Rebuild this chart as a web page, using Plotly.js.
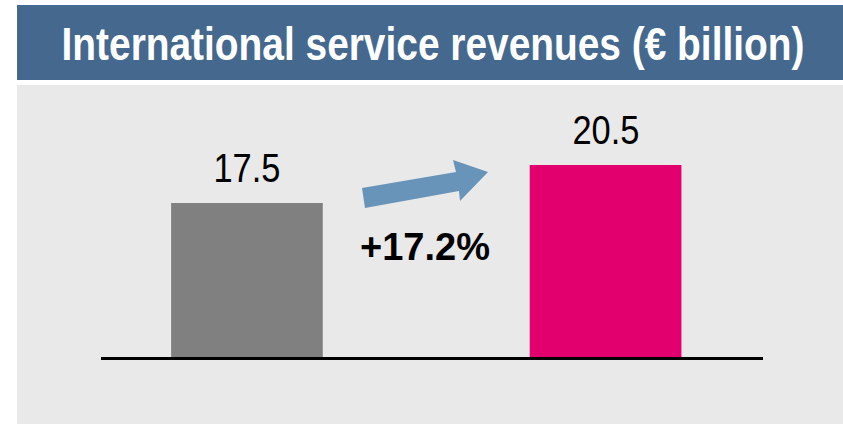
<!DOCTYPE html>
<html>
<head>
<meta charset="utf-8">
<script src="https://cdn.plot.ly/plotly-3.0.1.min.js"></script>
<style>html,body{margin:0;padding:0;background:#fff;}#chart{width:843px;height:424px;}</style>
</head>
<body>
<div id="chart"></div>
<script>
const categories = ["Before", "After"];
const values = [17.5, 20.5];
const valueLabels = ["17.5", "20.5"];
const barColors = ["#808080", "#e2006f"];
const growthLabel = "+17.2%";
const titleText = "International service revenues (€ billion)";

const W = 843, H = 424;
const px = x => x / W;
const py = y => 1 - y / H;

const arrowPts = [[362,188],[456,172],[453,160],[488,172],[460,201],[459,191],[365,208]];
const arrowPath = arrowPts.map((p,i)=> (i? 'L':'M') + px(p[0]).toFixed(5) + ',' + py(p[1]).toFixed(5)).join(' ') + ' Z';

const trace = {
  type: 'bar',
  x: categories,
  y: values,
  width: 0.423,
  marker: {color: barColors, line: {width: 0}},
  hoverinfo: 'none'
};

const layout = {
  width: W, height: H,
  margin: {l: 0, r: 0, t: 0, b: 0, pad: 0},
  paper_bgcolor: '#ffffff',
  plot_bgcolor: 'rgba(0,0,0,0)',
  showlegend: false,
  title: {
    text: '<b>' + titleText + '</b>',
    font: {family: '"Liberation Sans", Arial, sans-serif', size: 46, color: '#ffffff'},
    x: px(433), xanchor: 'center',
    y: py(44), yanchor: 'middle',
    xref: 'paper', yref: 'paper'
  },
  xaxis: {
    type: 'category',
    domain: [px(101), px(763)],
    range: [-0.407, 1.439],
    showline: true, linecolor: '#000000', linewidth: 2.5,
    showticklabels: false, ticks: '', showgrid: false, zeroline: false,
    fixedrange: true
  },
  yaxis: {
    domain: [py(357), py(85)],
    range: [5.34, 26.82],
    showticklabels: false, ticks: '', showgrid: false, zeroline: false, showline: false,
    fixedrange: true
  },
  shapes: [
    {type: 'rect', xref: 'paper', yref: 'paper', x0: px(17), x1: 1, y0: py(80), y1: py(5),
     fillcolor: '#44688e', line: {width: 0}, layer: 'below'},
    {type: 'rect', xref: 'paper', yref: 'paper', x0: px(17), x1: 1, y0: 0, y1: py(85),
     fillcolor: '#e9e9e9', line: {width: 0}, layer: 'below'},
    {type: 'path', xref: 'paper', yref: 'paper', path: arrowPath,
     fillcolor: '#6894ba', line: {width: 0}, layer: 'above'}
  ],
  annotations: values.map((v, i) => ({
    x: categories[i], y: v, xref: 'x', yref: 'y',
    text: valueLabels[i], showarrow: false,
    xanchor: 'center', yanchor: 'bottom', yshift: 10,
    font: {family: '"Liberation Sans", Arial, sans-serif', size: 41, color: '#000000'}
  })).concat([{
    x: px(425), y: py(247), xref: 'paper', yref: 'paper',
    text: '<b>' + growthLabel + '</b>', showarrow: false,
    xanchor: 'center', yanchor: 'middle',
    font: {family: '"Liberation Sans", Arial, sans-serif', size: 38, color: '#000000'}
  }])
};

function condense(el, sx, targetWidth) {
  if (!el) return;
  const bb = el.getBBox();
  const s = targetWidth ? targetWidth / bb.width : sx;
  const cx = bb.x + bb.width / 2;
  const prev = el.getAttribute('transform') || '';
  el.setAttribute('transform', prev + ` translate(${cx},0) scale(${s},1) translate(${-cx},0)`);
}

Plotly.newPlot('chart', [trace], layout, {displayModeBar: false, staticPlot: true}).then(gd => {
  condense(gd.querySelector('.gtitle'), null, 743);
  const ann = gd.querySelectorAll('text.annotation-text');
  for (let i = 0; i < valueLabels.length && i < ann.length; i++) condense(ann[i], 0.84);
});
</script>
</body>
</html>
